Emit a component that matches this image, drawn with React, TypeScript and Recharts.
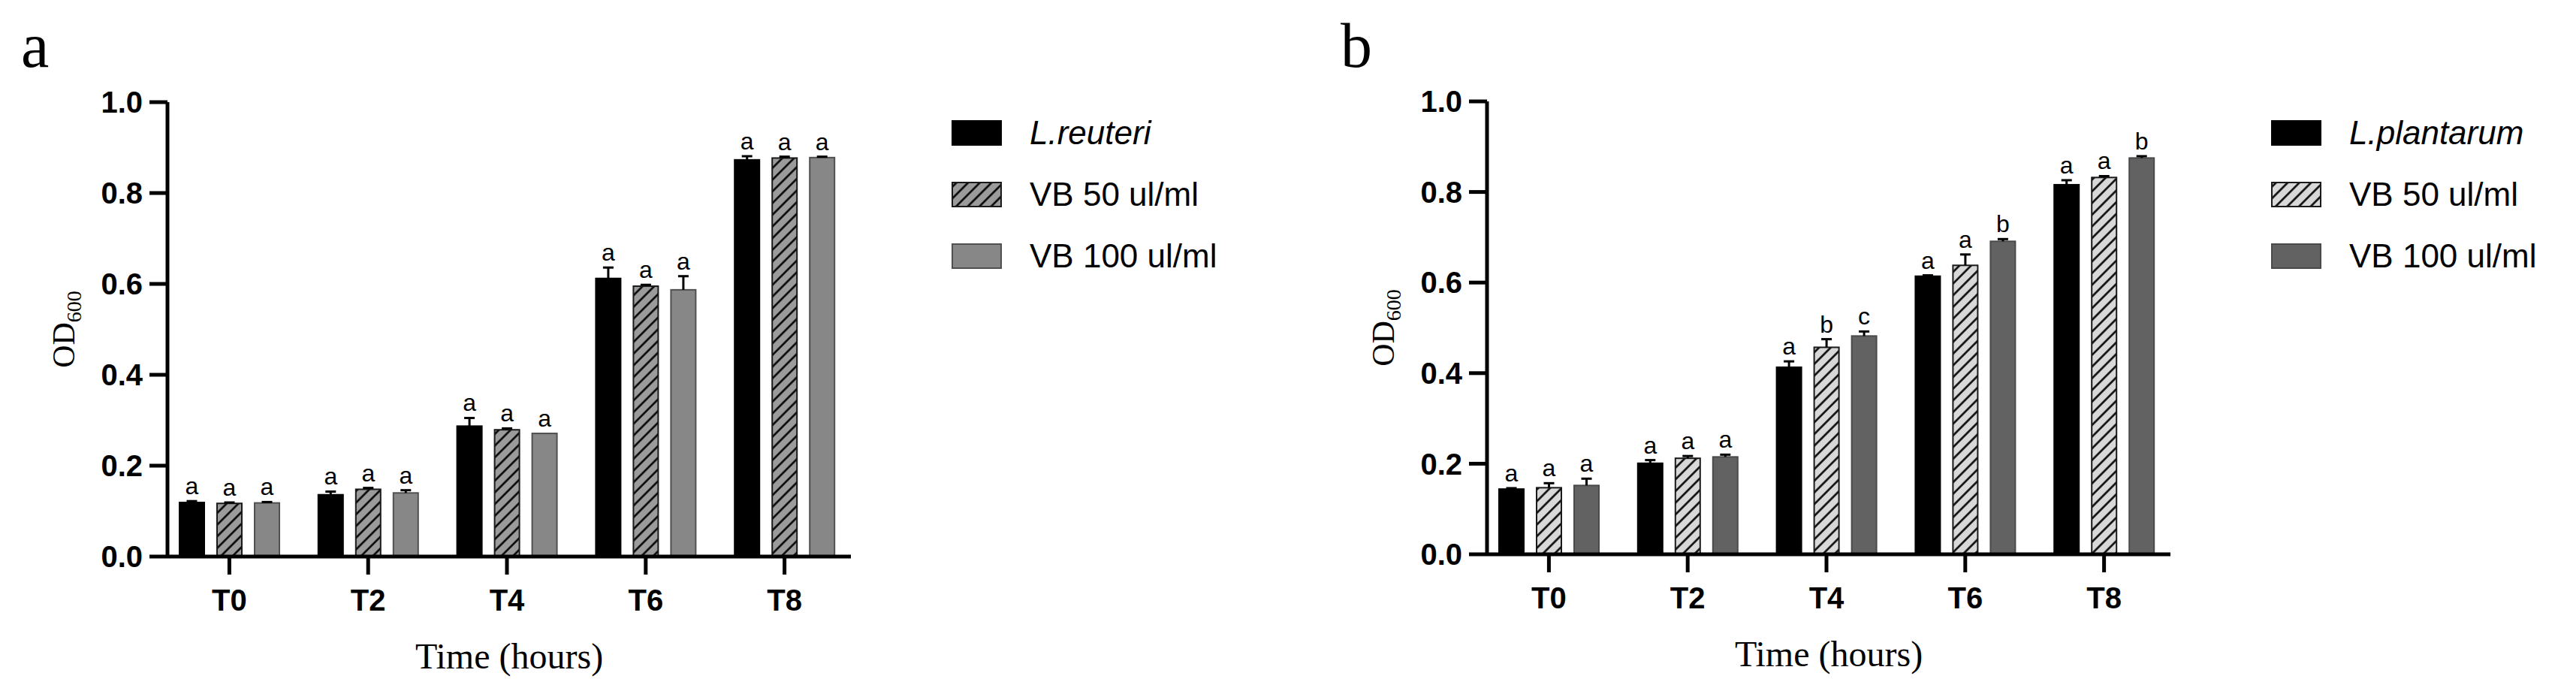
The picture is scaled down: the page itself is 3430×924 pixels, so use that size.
import React from "react";
import { BarChart, Bar, XAxis, YAxis, Legend } from "recharts";

const timePoints = ["T0", "T2", "T4", "T6", "T8"];
const yTicks = [0, 0.2, 0.4, 0.6, 0.8, 1.0];

// panel a - L. reuteri
const reuteriCtrl = [0.119, 0.136, 0.287, 0.612, 0.873];
const reuteriVb50 = [0.117, 0.148, 0.279, 0.595, 0.877];
const reuteriVb100 = [0.118, 0.14, 0.271, 0.587, 0.878];
const reuteriCtrlErr = [0.003, 0.007, 0.018, 0.024, 0.008];
const reuteriVb50Err = [0.002, 0.003, 0.003, 0.003, 0.003];
const reuteriVb100Err = [0.002, 0.006, 0, 0.03, 0.002];
const reuteriCtrlSig = ["a", "a", "a", "a", "a"];
const reuteriVb50Sig = ["a", "a", "a", "a", "a"];
const reuteriVb100Sig = ["a", "a", "a", "a", "a"];

// panel b - L. plantarum
const plantarumCtrl = [0.144, 0.201, 0.413, 0.614, 0.816];
const plantarumVb50 = [0.147, 0.212, 0.457, 0.638, 0.832];
const plantarumVb100 = [0.152, 0.215, 0.482, 0.691, 0.875];
const plantarumCtrlErr = [0.002, 0.007, 0.013, 0.002, 0.01];
const plantarumVb50Err = [0.01, 0.005, 0.018, 0.024, 0.003];
const plantarumVb100Err = [0.015, 0.005, 0.01, 0.005, 0.004];
const plantarumCtrlSig = ["a", "a", "a", "a", "a"];
const plantarumVb50Sig = ["a", "a", "b", "a", "a"];
const plantarumVb100Sig = ["a", "a", "c", "b", "b"];

const SANS = "'Liberation Sans', Arial, sans-serif";
const SERIF = "'Liberation Serif', 'Times New Roman', serif";

const buildRows = (ctrl, vb50, vb100, ctrlErr, vb50Err, vb100Err, ctrlSig, vb50Sig, vb100Sig) =>
    timePoints.map((t, i) => ({
        t,
        ctrl: ctrl[i],
        vb50: vb50[i],
        vb100: vb100[i],
        ctrlErr: ctrlErr[i],
        vb50Err: vb50Err[i],
        vb100Err: vb100Err[i],
        ctrlSig: ctrlSig[i],
        vb50Sig: vb50Sig[i],
        vb100Sig: vb100Sig[i],
    }));

// bar + one-sided error whisker + significance letter
const makeShape = (key: string) => (props: any) => {
    const { x, y, width, height, fill, stroke, payload } = props;
    const v = payload[key];
    const pxPerUnit = v ? height / v : 0;
    const err = payload[key + "Err"] || 0;
    const top = y - err * pxPerUnit;
    const cx = x + width / 2;
    return (
        <g>
            <rect x={x} y={y} width={width} height={height} fill={fill} stroke={stroke} strokeWidth={2} />
            {err > 0 && (
                <>
                    <line x1={cx} x2={cx} y1={y} y2={top} stroke="#000" strokeWidth={3} />
                    <line x1={cx - 7} x2={cx + 7} y1={top} y2={top} stroke="#000" strokeWidth={3} />
                </>
            )}
            <text x={cx} y={top - 9} textAnchor="middle" fontSize={32} fontFamily={SANS} fill="#000">
                {payload[key + "Sig"]}
            </text>
        </g>
    );
};

const Panel = ({ letter, rows, series, hatchId, hatchFill, top, bottom }) => {
    const legendContent = () => (
        <div style={{ display: "flex", flexDirection: "column" }}>
            {series.map((s) => (
                <div key={s.key} style={{ display: "flex", alignItems: "center", height: 82 }}>
                    <svg width={67} height={34} style={{ display: "block" }}>
                        <rect x={1} y={1} width={65} height={32} fill={s.fill} stroke={s.stroke} strokeWidth={2} />
                    </svg>
                    <span
                        style={{
                            marginLeft: 37,
                            fontSize: 44,
                            lineHeight: 1,
                            fontFamily: SANS,
                            fontStyle: s.italic ? "italic" : "normal",
                            color: "#000",
                            whiteSpace: "nowrap",
                        }}
                    >
                        {s.name}
                    </span>
                </div>
            ))}
        </div>
    );

    return (
        <div style={{ position: "relative", width: 1673, height: 924 }}>
            <svg width={140} height={120} style={{ position: "absolute", left: 0, top: 0 }}>
                <text x={28} y={89} fontSize={84} fontFamily={SERIF} fill="#000">
                    {letter}
                </text>
            </svg>
            <BarChart
                width={1673}
                height={924}
                data={rows}
                margin={{ top, right: 540, bottom, left: 0 }}
                barSize={33}
                barGap={17}
            >
                <defs>
                    <pattern id={hatchId} patternUnits="userSpaceOnUse" width={11} height={11} patternTransform="rotate(45)">
                        <rect width={11} height={11} fill={hatchFill} />
                        <line x1={5.5} y1={0} x2={5.5} y2={11} stroke="#000" strokeWidth={2.5} />
                    </pattern>
                </defs>
                <XAxis
                    dataKey="t"
                    height={100}
                    padding={{ left: -10, right: -4 }}
                    axisLine={{ stroke: "#000", strokeWidth: 5 }}
                    tickLine={{ stroke: "#000", strokeWidth: 5 }}
                    tickSize={24}
                    tickMargin={20}
                    tick={{ fill: "#000", fontSize: 40, fontWeight: 700, fontFamily: SANS }}
                    label={(p: any) => (
                        <text
                            x={p.viewBox.x + p.viewBox.width / 2}
                            y={p.viewBox.y + 149}
                            textAnchor="middle"
                            fontSize={48}
                            fontFamily={SERIF}
                            fill="#000"
                        >
                            Time (hours)
                        </text>
                    )}
                />
                <YAxis
                    type="number"
                    width={223}
                    domain={[0, 1]}
                    ticks={yTicks}
                    tickFormatter={(v) => v.toFixed(1)}
                    axisLine={{ stroke: "#000", strokeWidth: 5 }}
                    tickLine={{ stroke: "#000", strokeWidth: 5 }}
                    tickSize={24}
                    tickMargin={9}
                    tick={{ fill: "#000", fontSize: 40, fontWeight: 700, fontFamily: SANS }}
                    label={(p: any) => {
                        const cx = 99;
                        const cy = p.viewBox.y + p.viewBox.height / 2;
                        return (
                            <text
                                x={cx}
                                y={cy}
                                transform={`rotate(-90, ${cx}, ${cy})`}
                                textAnchor="middle"
                                fontSize={42}
                                fontFamily={SERIF}
                                fill="#000"
                            >
                                OD
                                <tspan fontSize={28} dy={9}>
                                    600
                                </tspan>
                            </text>
                        );
                    }}
                />
                <Legend
                    layout="vertical"
                    align="center"
                    verticalAlign="middle"
                    content={legendContent}
                    wrapperStyle={{ left: 1267, top: 136, width: 420 }}
                />
                {series.map((s) => (
                    <Bar
                        key={s.key}
                        dataKey={s.key}
                        name={s.name}
                        fill={s.fill}
                        stroke={s.stroke}
                        shape={makeShape(s.key)}
                        isAnimationActive={false}
                    />
                ))}
            </BarChart>
        </div>
    );
};

const reuteriRows = buildRows(
    reuteriCtrl, reuteriVb50, reuteriVb100,
    reuteriCtrlErr, reuteriVb50Err, reuteriVb100Err,
    reuteriCtrlSig, reuteriVb50Sig, reuteriVb100Sig
);
const plantarumRows = buildRows(
    plantarumCtrl, plantarumVb50, plantarumVb100,
    plantarumCtrlErr, plantarumVb50Err, plantarumVb100Err,
    plantarumCtrlSig, plantarumVb50Sig, plantarumVb100Sig
);

const reuteriSeries = [
    { key: "ctrl", name: "L.reuteri", italic: true, fill: "#000", stroke: "#000" },
    { key: "vb50", name: "VB 50 ul/ml", fill: "url(#hatch-a)", stroke: "#1a1a1a" },
    { key: "vb100", name: "VB 100 ul/ml", fill: "#878787", stroke: "#505050" },
];
const plantarumSeries = [
    { key: "ctrl", name: "L.plantarum", italic: true, fill: "#000", stroke: "#000" },
    { key: "vb50", name: "VB 50 ul/ml", fill: "url(#hatch-b)", stroke: "#1a1a1a" },
    { key: "vb100", name: "VB 100 ul/ml", fill: "#626262", stroke: "#4a4a4a" },
];

export default function App() {
    return (
        <div style={{ position: "absolute", left: 0, top: 0, width: 3430, height: 924, background: "#fff", display: "flex" }}>
            <div style={{ width: 1757 }}>
                <Panel letter="a" rows={reuteriRows} series={reuteriSeries} hatchId="hatch-a" hatchFill="#9b9b9b" top={136} bottom={83} />
            </div>
            <div style={{ width: 1673 }}>
                <Panel letter="b" rows={plantarumRows} series={plantarumSeries} hatchId="hatch-b" hatchFill="#d8d8d8" top={135} bottom={86} />
            </div>
        </div>
    );
}
